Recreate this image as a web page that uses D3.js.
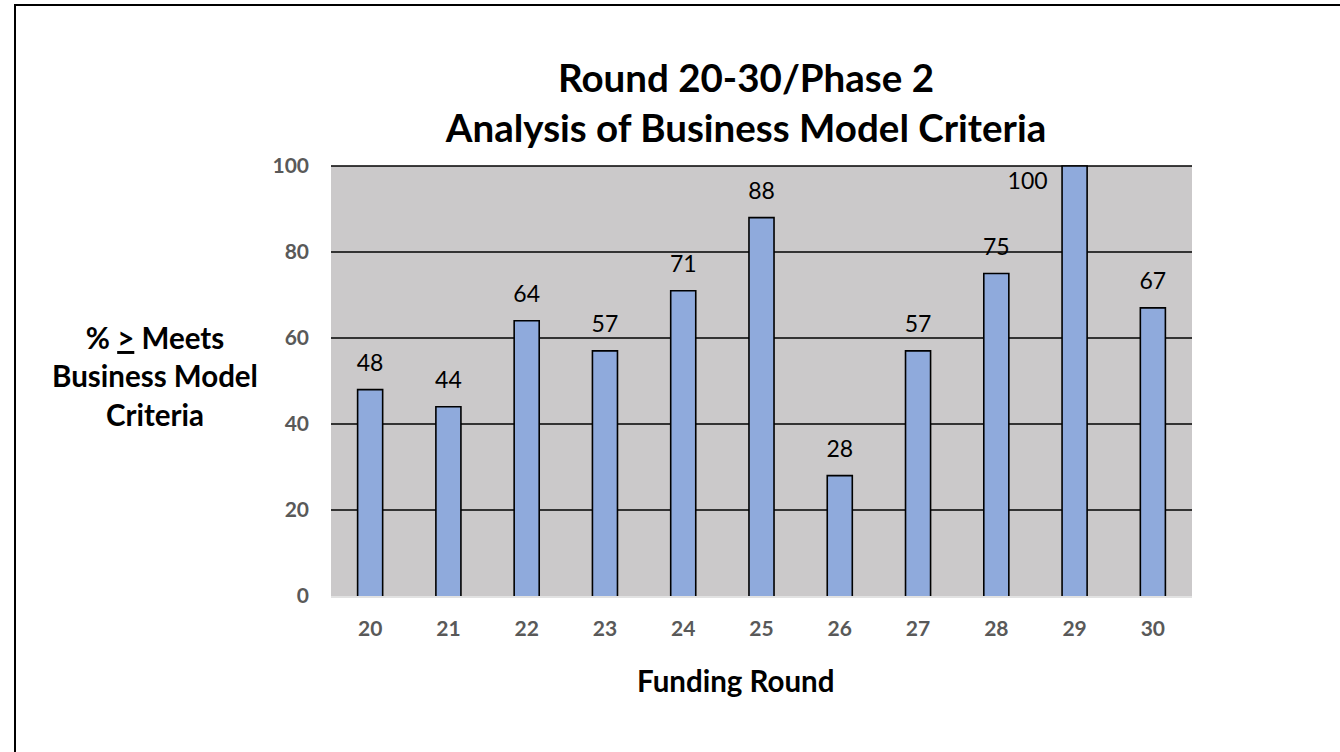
<!DOCTYPE html>
<html>
<head>
<meta charset="utf-8">
<script src="https://cdn.jsdelivr.net/npm/d3@7"></script>
<style>
  body { margin: 0; background: #fff; }
  svg { display: block; font-family: Lato, "Open Sans", sans-serif; }
</style>
</head>
<body>
<div id="chart"></div>
<script>
// data
const rounds = ["20", "21", "22", "23", "24", "25", "26", "27", "28", "29", "30"];
const percents = [48, 44, 64, 57, 71, 88, 28, 57, 75, 100, 67];
const yTicks = [0, 20, 40, 60, 80, 100];
const titleLines = ["Round 20-30/Phase 2", "Analysis of Business Model Criteria"];

// frame constants
const FRAME_WIDTH = 1340;
const FRAME_HEIGHT = 752;
const PLOT = {left: 331, right: 1192, top: 166, bottom: 596};

const svg = d3.select("#chart")
  .append("svg")
    .attr("width", FRAME_WIDTH)
    .attr("height", FRAME_HEIGHT);

// outer border (runs off the right and bottom edges)
svg.append("rect")
  .attr("x", 15).attr("y", 5)
  .attr("width", 1400).attr("height", 800)
  .attr("fill", "none")
  .attr("stroke", "#000")
  .attr("stroke-width", 2);

// scales
const xScale = d3.scaleBand()
  .domain(rounds)
  .range([PLOT.left, PLOT.right])
  .paddingInner(0.68)
  .paddingOuter(0.34);

const yScale = d3.scaleLinear()
  .domain([0, 100])
  .range([PLOT.bottom, PLOT.top]);

// plot background
svg.append("rect")
  .attr("x", PLOT.left).attr("y", PLOT.top)
  .attr("width", PLOT.right - PLOT.left)
  .attr("height", PLOT.bottom - PLOT.top)
  .attr("fill", "#CBC9CA");

// gridlines
svg.append("g")
  .selectAll("line")
  .data(yTicks.filter(d => d > 0))
  .join("line")
    .attr("x1", PLOT.left).attr("x2", PLOT.right)
    .attr("y1", d => yScale(d)).attr("y2", d => yScale(d))
    .attr("stroke", "#000")
    .attr("stroke-width", 1.5);

// bottom axis line
svg.append("line")
  .attr("x1", PLOT.left).attr("x2", PLOT.right)
  .attr("y1", PLOT.bottom + 1).attr("y2", PLOT.bottom + 1)
  .attr("stroke", "#D9D9D9")
  .attr("stroke-width", 1.5);

// bars (open at the bottom)
svg.append("g")
  .selectAll("path")
  .data(rounds)
  .join("path")
    .attr("d", (d, i) => {
      const x0 = xScale(d), x1 = x0 + xScale.bandwidth();
      const y0 = yScale(0), y1 = yScale(percents[i]);
      return `M${x0},${y0}V${y1}H${x1}V${y0}`;
    })
    .attr("fill", "#8FAADC")
    .attr("stroke", "#000")
    .attr("stroke-width", 1.6);

// value labels, the full bar gets its label to the left
svg.append("g")
  .selectAll("text")
  .data(rounds)
  .join("text")
    .attr("x", (d, i) => xScale(d) + xScale.bandwidth() / 2 - (percents[i] >= 100 ? 47 : 0))
    .attr("y", (d, i) => percents[i] >= 100 ? yScale(percents[i]) + 23 : yScale(percents[i]) - 19)
    .attr("text-anchor", "middle")
    .attr("font-size", 23)
    .attr("fill", "#000")
    .text((d, i) => percents[i]);

// y axis tick labels
const yAxis = svg.append("g")
  .attr("transform", `translate(${PLOT.left},0)`)
  .call(d3.axisLeft(yScale).tickValues(yTicks).tickSize(0).tickPadding(22));
yAxis.select(".domain").remove();
yAxis.selectAll("text")
  .attr("font-family", "Lato, sans-serif")
  .attr("font-size", 21)
  .attr("font-weight", "bold")
  .attr("fill", "#595959");

// x axis tick labels
const xAxis = svg.append("g")
  .attr("transform", `translate(0,${PLOT.bottom})`)
  .call(d3.axisBottom(xScale).tickSize(0).tickPadding(25));
xAxis.select(".domain").remove();
xAxis.selectAll("text")
  .attr("font-family", "Lato, sans-serif")
  .attr("font-size", 21)
  .attr("font-weight", "bold")
  .attr("fill", "#595959");

// title
svg.append("g")
  .selectAll("text")
  .data(titleLines)
  .join("text")
    .attr("x", 746)
    .attr("y", (d, i) => 92 + i * 50)
    .attr("text-anchor", "middle")
    .attr("font-size", 38.5)
    .attr("font-weight", "bold")
    .attr("fill", "#000")
    .text(d => d);

// y axis title
const yTitle = svg.append("text")
  .attr("text-anchor", "middle")
  .attr("font-size", 29.5)
  .attr("font-weight", "bold")
  .attr("fill", "#000");
const l1 = yTitle.append("tspan").attr("x", 155).attr("y", 349);
l1.append("tspan").text("% ");
l1.append("tspan").attr("text-decoration", "underline").text(">");
l1.append("tspan").text(" Meets");
yTitle.append("tspan").attr("x", 155).attr("y", 387).text("Business Model");
yTitle.append("tspan").attr("x", 155).attr("y", 426).text("Criteria");

// x axis title
svg.append("text")
  .attr("x", 637)
  .attr("y", 692)
  .attr("font-size", 29.5)
  .attr("font-weight", "bold")
  .attr("fill", "#000")
  .text("Funding Round");
</script>
</body>
</html>
